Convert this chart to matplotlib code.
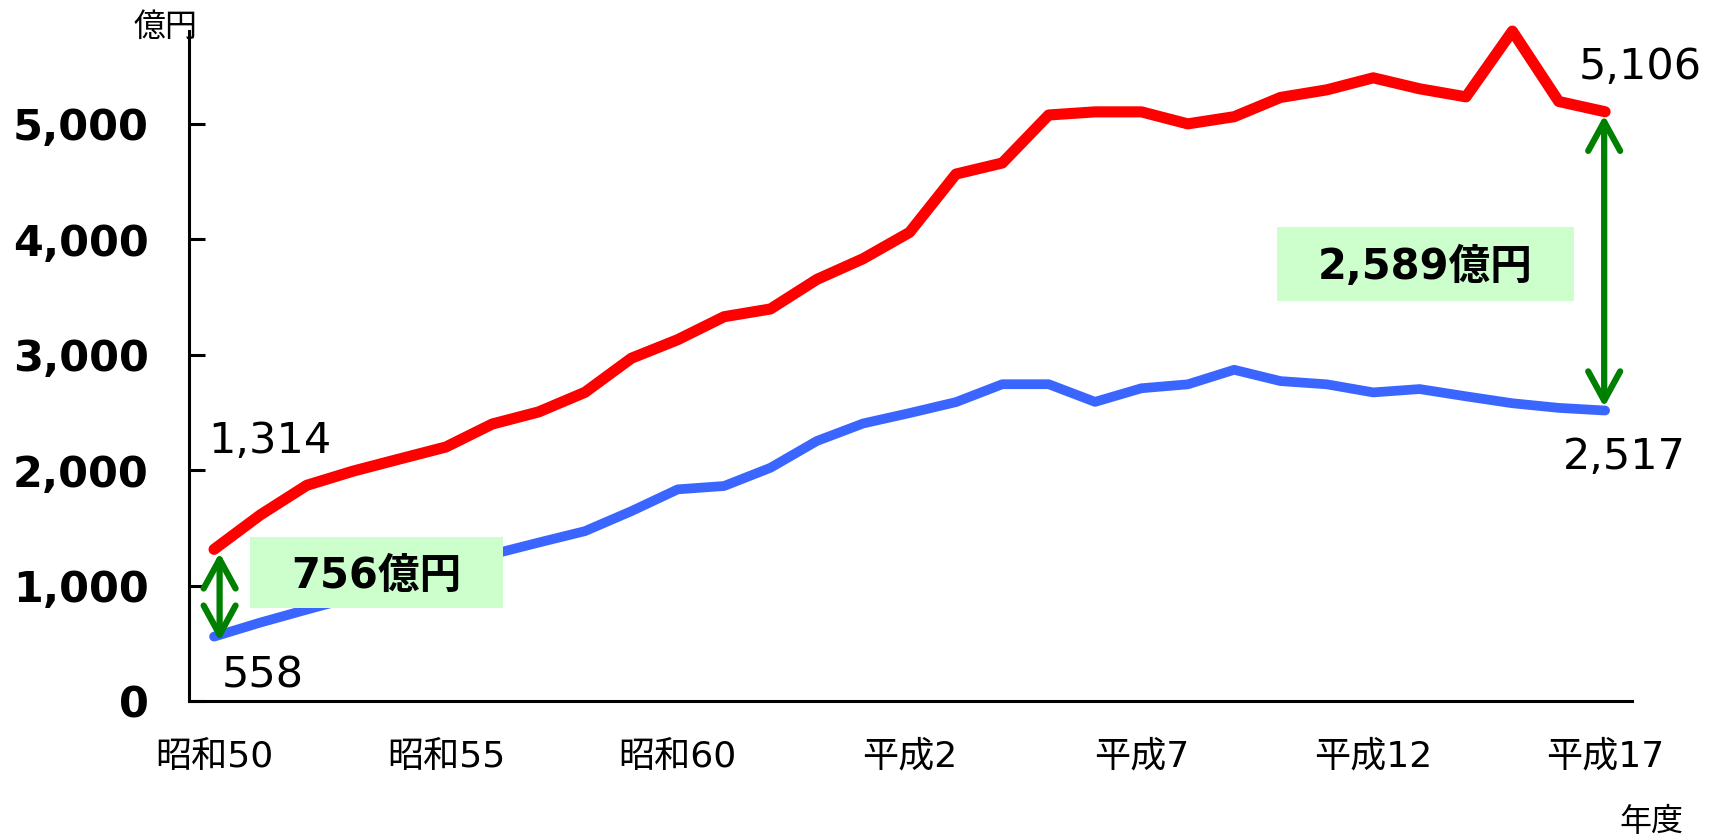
import matplotlib
matplotlib.use("Agg")
import matplotlib.pyplot as plt
from matplotlib.patches import FancyArrowPatch, Rectangle

FAM = ['DejaVu Sans', 'Noto Sans CJK JP']
plt.rcParams['font.family'] = FAM

years = list(range(1975, 2006))
red_values = [1314, 1613, 1869, 1992, 2097, 2201, 2400, 2505, 2675, 2970,
              3131, 3330, 3397, 3653, 3833, 4061, 4566, 4662, 5078, 5105,
              5105, 5001, 5063, 5230, 5296, 5400, 5305, 5235, 5805, 5195,
              5106]
blue_values = [558, 680, 792, 900, 1010, 1120, 1271, 1373, 1472, 1645,
               1834, 1863, 2021, 2253, 2405, 2495, 2590, 2745, 2745, 2592,
               2710, 2744, 2870, 2772, 2744, 2674, 2703, 2640, 2580, 2540,
               2517]
xtick_years = [1975, 1980, 1985, 1990, 1995, 2000, 2005]
xtick_labels = ['昭和50', '昭和55', '昭和60', '平成2', '平成7', '平成12', '平成17']
yticks = [0, 1000, 2000, 3000, 4000, 5000]
ytick_labels = ['0', '1,000', '2,000', '3,000', '4,000', '5,000']

W, H = 1714, 840
fig = plt.figure(figsize=(W / 100, H / 100), dpi=100)
ax = fig.add_axes([0.11027, 0.16548, 0.84189, 0.7982])

ax.plot(years, blue_values, color='#3a66ff', lw=7, solid_capstyle='round',
        solid_joinstyle='round', zorder=2, clip_on=False)
ax.plot(years, red_values, color='#ff0000', lw=8, solid_capstyle='round',
        solid_joinstyle='round', zorder=4, clip_on=False)

ax.set_xlim(1975 - 0.54, 2005 + 0.58)
ax.set_ylim(0, 5810)

for s in ['top', 'right']:
    ax.spines[s].set_visible(False)
for s in ['left', 'bottom']:
    ax.spines[s].set_linewidth(2.2)
    ax.spines[s].set_color('black')

ax.set_yticks(yticks)
ax.set_yticklabels(ytick_labels, fontsize=31, fontweight='bold')
ax.tick_params(axis='y', direction='in', length=11.5, width=2.2, pad=29)
ax.set_xticks(xtick_years)
ax.set_xticklabels(xtick_labels, fontsize=26)
ax.tick_params(axis='x', length=0, pad=28)

# unit labels
fig.text(197 / W, 1 - 27 / H, '億円', fontsize=23, ha='right', va='center')
fig.text(1651 / W, 1 - 822 / H, '年度', fontsize=23, ha='center', va='center')

# value labels (positions in data units)
ax.text(1974.87, 2149, '1,314', fontsize=31, ha='left', va='baseline')
ax.text(1975.17, 121, '558', fontsize=31, ha='left', va='baseline')
ax.text(2004.44, 5390, '5,106', fontsize=31, ha='left', va='baseline')
ax.text(2004.09, 2010, '2,517', fontsize=31, ha='left', va='baseline')

# difference boxes
def box(x0px, x1px, y0px, y1px, label, zorder=3):
    r = Rectangle((x0px / W, 1 - y1px / H), (x1px - x0px) / W,
                  (y1px - y0px) / H, transform=fig.transFigure,
                  facecolor='#ccffcc', edgecolor='none', zorder=zorder)
    fig.add_artist(r)
    fig.text((x0px + x1px) / 2 / W, 1 - (y0px + y1px) / 2 / H - 0.004, label,
             fontsize=30, fontweight='bold', ha='center', va='center', zorder=zorder + 1)

box(250, 503, 537, 608, '756億円')
box(1277, 1574, 227, 301, '2,589億円')

# arrows
def darrow(x, y0, y1):
    a = FancyArrowPatch((x, y0), (x, y1), arrowstyle='<->,head_length=21,head_width=11.5',
                        mutation_scale=1, color='#008000', lw=4.5, zorder=6,
                        shrinkA=0, shrinkB=0, clip_on=False)
    ax.add_patch(a)

darrow(1975 + 0.12, red_values[0] - 30, blue_values[0] - 40)
darrow(2005 - 0.02, red_values[-1] - 30, blue_values[-1] + 30)

fig.savefig('out.png', dpi=100)
